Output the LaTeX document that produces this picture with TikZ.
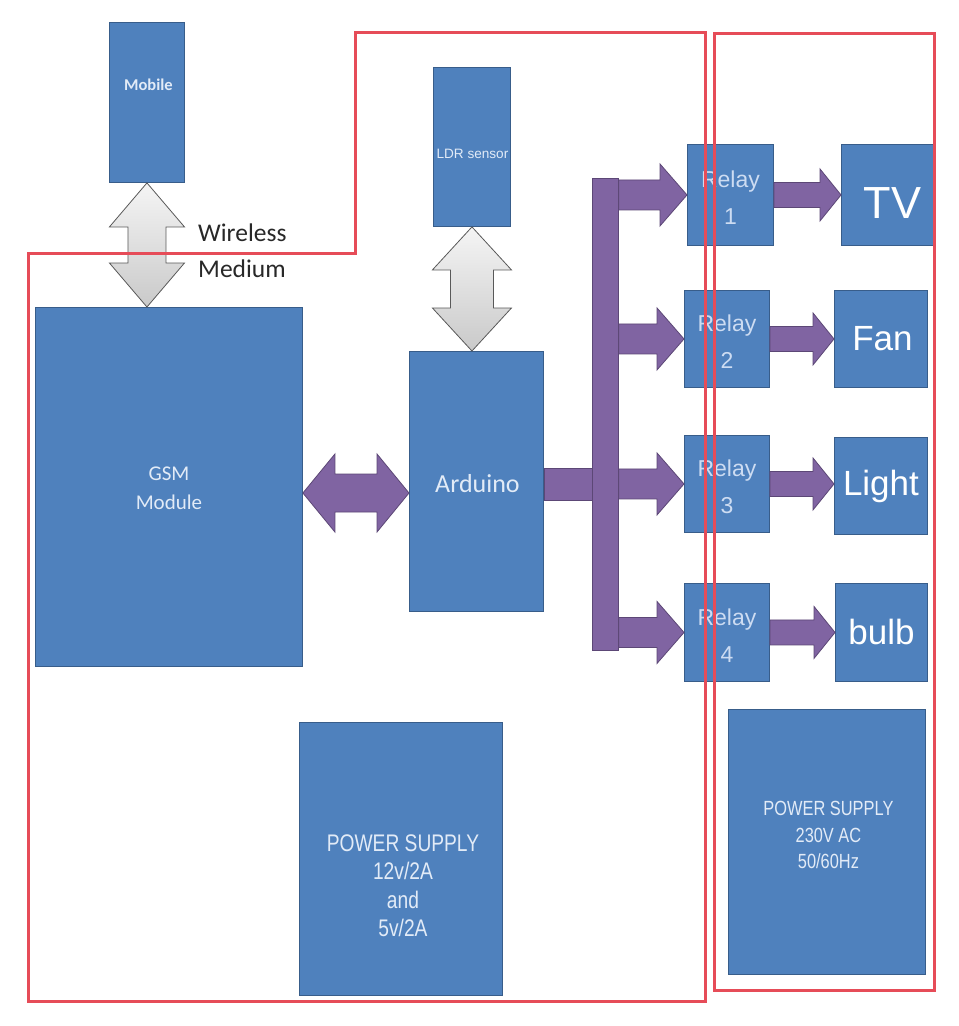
\documentclass[tikz,border=0pt]{standalone}
\usepackage{fontspec}
\setmainfont{Carlito}
\newfontfamily\sansA{Liberation Sans}
\newfontfamily\condA[FakeStretch=0.8]{Liberation Sans}
\usetikzlibrary{calc}
\definecolor{boxblue}{RGB}{79,129,189}
\definecolor{boxedge}{RGB}{56,93,138}
\definecolor{txtlight}{RGB}{226,235,247}
\definecolor{relaytxt}{RGB}{205,220,242}
\definecolor{arrpurple}{RGB}{128,100,162}
\definecolor{arredge}{RGB}{92,71,118}
\definecolor{framered}{RGB}{230,76,88}
\definecolor{graytxt}{RGB}{40,40,40}
% horizontal single fat arrow: style, start, tip, shaft half, head half, head length
\newcommand\fatH[6]{\draw[#1] ($(#2)+(0,-#4)$) -- ($(#3)+(-#6,-#4)$) -- ($(#3)+(-#6,-#5)$) -- (#3) -- ($(#3)+(-#6,#5)$) -- ($(#3)+(-#6,#4)$) -- ($(#2)+(0,#4)$) -- cycle;}
% horizontal double fat arrow: style, left tip, right tip, shaft half, head half, head length
\newcommand\fatHH[6]{\draw[#1] (#2) -- ($(#2)+(#6,-#5)$) -- ($(#2)+(#6,-#4)$) -- ($(#3)+(-#6,-#4)$) -- ($(#3)+(-#6,-#5)$) -- (#3) -- ($(#3)+(-#6,#5)$) -- ($(#3)+(-#6,#4)$) -- ($(#2)+(#6,#4)$) -- ($(#2)+(#6,#5)$) -- cycle;}
% vertical double fat arrow: style, top tip, bottom tip, shaft half, head half, head length
\newcommand\fatVV[6]{\draw[#1] (#2) -- ($(#2)+(#5,#6)$) -- ($(#2)+(#4,#6)$) -- ($(#3)+(#4,-#6)$) -- ($(#3)+(#5,-#6)$) -- (#3) -- ($(#3)+(-#5,-#6)$) -- ($(#3)+(-#4,-#6)$) -- ($(#2)+(-#4,#6)$) -- ($(#2)+(-#5,#6)$) -- cycle;}
\begin{document}
\begin{tikzpicture}[x=1pt,y=-1pt,
  box/.style={draw=boxedge, fill=boxblue, line width=0.9pt, inner sep=0pt, anchor=north west},
  lbl/.style={text=txtlight, align=center, inner sep=0pt},
  rlbl/.style={text=relaytxt, align=center, inner sep=0pt, font=\sansA\fontsize{23}{37}\selectfont},
  dlbl/.style={text=white, align=center, inner sep=0pt, font=\sansA\fontsize{35}{40}\selectfont},
  purplearrow/.style={draw=arredge, fill=arrpurple, line width=0.8pt, line join=miter},
  grayarrow/.style={draw=gray!70!black, top color=gray!8, bottom color=gray!42, line width=0.8pt, line join=miter},
  redframe/.style={draw=framered, line width=3pt}]
\useasboundingbox (0,0) rectangle (959,1026);
\fill[white] (0,0) rectangle (959,1026);

% boxes
\node[box, minimum width=75, minimum height=160] (mobile) at (109,22) {};
\node[box, minimum width=267, minimum height=359] (gsm) at (35,307) {};
\node[box, minimum width=77, minimum height=159] (ldr) at (433,67) {};
\node[box, minimum width=134, minimum height=260] (ard) at (409,351) {};
\node[box, minimum width=86, minimum height=101] (r1) at (687,144) {};
\node[box, minimum width=85, minimum height=97] (r2) at (684,290) {};
\node[box, minimum width=85, minimum height=97] (r3) at (684,435) {};
\node[box, minimum width=85, minimum height=98] (r4) at (684,583) {};
\node[box, minimum width=94, minimum height=101] (tv) at (841,144) {};
\node[box, minimum width=93, minimum height=97] (fan) at (834,290) {};
\node[box, minimum width=93, minimum height=97] (light) at (834,437) {};
\node[box, minimum width=92, minimum height=98] (bulb) at (835,583) {};
\node[box, minimum width=203, minimum height=273] (ps1) at (299,722) {};
\node[box, minimum width=197, minimum height=265] (ps2) at (728,709) {};
\node[draw=arredge, fill=arrpurple, line width=0.8pt, inner sep=0pt, anchor=north west,
      minimum width=26, minimum height=472] (bus) at (592,178) {};

% texts
\node[lbl, font=\bfseries\fontsize{16.5}{19}\selectfont] (mobileT) at ($(mobile.center)+(1.5,-18)$) {Mobile};
\node[lbl, font=\fontsize{21}{29}\selectfont] (gsmT) at ($(gsm.center)+(0,1)$) {GSM\\Module};
\node[lbl, font=\sansA\fontsize{13.6}{16}\selectfont] (ldrT) at ($(ldr.center)+(0.5,6.5)$) {LDR sensor};
\node[lbl, font=\fontsize{26}{30}\selectfont] (ardT) at ($(ard.center)+(1,2)$) {Arduino};
\node[rlbl] (r1T) at ($(r1.center)+(0,3)$) {Relay\\1};
\node[rlbl] (r2T) at ($(r2.center)+(0,3)$) {Relay\\2};
\node[rlbl] (r3T) at ($(r3.center)+(0,3)$) {Relay\\3};
\node[rlbl] (r4T) at ($(r4.center)+(0,3)$) {Relay\\4};
\node[dlbl, font=\sansA\fontsize{45}{50}\selectfont] (tvT) at ($(tv.center)+(4,8)$) {TV};
\node[dlbl] (fanT) at ($(fan.center)+(1.5,0)$) {Fan};
\node[dlbl] (lightT) at ($(light.center)+(0,0)$) {Light};
\node[dlbl] (bulbT) at ($(bulb.center)+(0,0)$) {bulb};
\node[lbl, font=\condA\fontsize{24}{28.5}\selectfont] (ps1T) at ($(ps1.center)+(2,27)$) {POWER SUPPLY\\12v/2A\\and\\5v/2A};
\node[lbl, font=\condA\fontsize{20.5}{26.5}\selectfont] (ps2T) at ($(ps2.center)+(1.5,-7)$) {POWER SUPPLY\\230V AC\\50/60Hz};
\node[text=graytxt, align=left, inner sep=0pt, anchor=west, font=\fontsize{25.5}{36}\selectfont] (wirelessT) at (198,251) {Wireless\\Medium};

% gray double arrows
\coordinate (m1) at (mobile.south);
\coordinate (m2) at (mobile.south |- gsm.north);
\fatVV{grayarrow}{m1}{m2}{19}{37.5}{44}
\coordinate (l1) at (ldr.south);
\coordinate (l2) at (ldr.south |- ard.north);
\fatVV{grayarrow}{l1}{l2}{21.5}{39.5}{43}

% GSM <-> Arduino
\coordinate (dm) at (355,493);
\coordinate (g1) at (gsm.east |- dm);
\coordinate (g2) at (ard.west |- dm);
\fatHH{purplearrow}{g1}{g2}{19}{39}{32}

% Arduino -> bus
\coordinate (a1) at (ard.east |- r3.west);
\coordinate (a2) at (bus.west |- r3.west);
\draw[purplearrow] ($(a1)+(0,-16)$) rectangle ($(a2)+(0,16)$);

% bus -> relays
\coordinate (b1) at (bus.east |- r1.west);
\coordinate (b2) at (bus.east |- r2.west);
\coordinate (b3) at (bus.east |- r3.west);
\coordinate (b4) at (bus.east |- r4.west);
\fatH{purplearrow}{b1}{r1.west}{15}{31}{27}
\fatH{purplearrow}{b2}{r2.west}{15}{31}{27}
\fatH{purplearrow}{b3}{r3.west}{15}{31}{27}
\fatH{purplearrow}{b4}{r4.west}{15}{31}{27}

% relays -> devices
\coordinate (d1) at (tv.west |- r1.east);
\coordinate (d2) at (fan.west |- r2.east);
\coordinate (d3) at (light.west |- r3.east);
\coordinate (d4) at (bulb.west |- r4.east);
\fatH{purplearrow}{r1.east}{d1}{12.5}{26}{21}
\fatH{purplearrow}{r2.east}{d2}{12.5}{26}{21}
\fatH{purplearrow}{r3.east}{d3}{12.5}{26}{21}
\fatH{purplearrow}{r4.east}{d4}{12.5}{26}{21}

% red frames
\draw[redframe] (28,253) -- (355,253) -- (355,32) -- (705,32) -- (705,1001) -- (28,1001) -- cycle;
\draw[redframe] (714,33) rectangle (934,990);
\end{tikzpicture}
\end{document}
